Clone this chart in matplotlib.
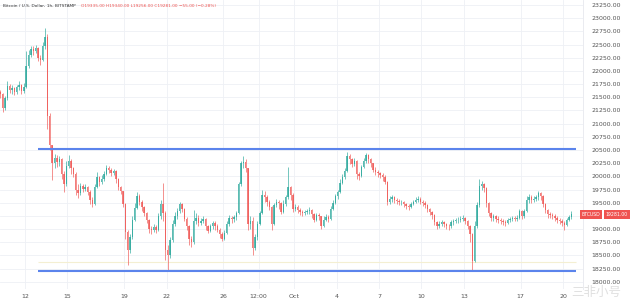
import matplotlib
matplotlib.use("Agg")
import matplotlib.pyplot as plt
import matplotlib.dates as mdates
import numpy as np
import pandas as pd

# ---------------- data (4h candles) ----------------
first_open = 21600
close = [21560, 21300, 21480, 21720, 21640, 21680, 21600, 21690, 21740, 21620,
         21700, 22100, 22300, 22420, 22380, 22440, 22250, 22200, 22480, 22650,
         21150, 20600, 20250, 20350, 20280, 20320, 20050, 19850, 20200, 20300,
         20150, 20050, 19750, 19680, 19820, 19760, 19800, 19700, 19560, 19480,
         19800, 19980, 19900, 19950, 20050, 20150, 20120, 20060, 20100, 19950,
         19800, 19720, 19480, 18950, 18600, 18850, 19180, 19400, 19620, 19520,
         19420, 19300, 19180, 19000, 18980, 19040, 18990, 19250, 19480, 19300,
         18600, 18500, 18800, 19100, 19250, 19350, 19480, 19380, 19200, 19050,
         18820, 18760, 19150, 19220, 19120, 19160, 19200, 19050, 18960, 19050,
         19120, 19060, 18990, 18900, 18820, 18930, 19100, 19220, 19190, 19230,
         19300, 19850, 20250, 20280, 20150, 19100, 19150, 18650, 18850, 19100,
         19300, 19650, 19600, 19520, 19420, 19100, 19450, 19520, 19500, 19330,
         19480, 19600, 19800, 19650, 19380, 19420, 19360, 19330, 19300, 19320,
         19340, 19360, 19280, 19180, 19260, 19240, 19060, 19180, 19230, 19200,
         19380, 19500, 19620, 19700, 19880, 19980, 20100, 20380, 20320, 20230,
         20300, 20050, 20000, 20180, 20300, 20400, 20320, 20250, 20130, 20080,
         20060, 20020, 19980, 19900, 19520, 19580, 19600, 19560, 19530, 19510,
         19520, 19470, 19440, 19410, 19480, 19520, 19560, 19580, 19520, 19500,
         19460, 19380, 19320, 19270, 19130, 19060, 19100, 19140, 19090, 19060,
         19050, 19130, 19150, 19170, 19180, 19200, 19210, 19160, 19060, 18900,
         18400, 19050, 19450, 19820, 19850, 19780, 19500, 19300, 19220, 19240,
         19200, 19180, 19160, 19140, 19120, 19170, 19190, 19210, 19200, 19220,
         19340, 19240, 19350, 19560, 19600, 19550, 19580, 19600, 19680, 19620,
         19480, 19360, 19280, 19270, 19250, 19210, 19180, 19150, 19120, 19080,
         19170, 19230, 19281]
high = [21640, 21580, 21520, 21800, 21760, 21740, 21700, 21730, 21800, 21760,
        21780, 22380, 22390, 22480, 22470, 22500, 22460, 22300, 22540, 22810,
        22700, 21200, 20600, 20420, 20400, 20380, 20340, 20100, 20300, 20400,
        20320, 20180, 20080, 19850, 19880, 19860, 19850, 19820, 19740, 19600,
        19850, 20080, 20000, 20020, 20100, 20220, 20200, 20150, 20140, 20120,
        19960, 19820, 19730, 19500, 18980, 18900, 19250, 19500, 19700, 19660,
        19560, 19440, 19330, 19200, 19060, 19090, 19080, 19300, 19560, 19880,
        19350, 18700, 18850, 19180, 19320, 19400, 19520, 19500, 19400, 19230,
        19080, 18860, 19360, 19300, 19260, 19220, 19250, 19220, 19080, 19100,
        19160, 19150, 19090, 19020, 18940, 18980, 19150, 19260, 19250, 19270,
        19340, 19900, 20300, 20380, 20320, 20160, 19250, 19230, 18900, 19150,
        19350, 19740, 19720, 19640, 19560, 19440, 19500, 19580, 19560, 19520,
        19550, 19650, 20180, 19820, 19680, 19470, 19450, 19400, 19370, 19360,
        19390, 19410, 19380, 19300, 19310, 19300, 19250, 19240, 19280, 19260,
        19430, 19560, 19660, 19750, 19950, 20050, 20160, 20470, 20420, 20350,
        20340, 20310, 20080, 20220, 20350, 20450, 20420, 20340, 20260, 20170,
        20120, 20090, 20060, 20020, 19920, 19620, 19640, 19630, 19590, 19570,
        19560, 19540, 19500, 19470, 19520, 19560, 19600, 19620, 19600, 19560,
        19530, 19480, 19400, 19340, 19290, 19160, 19160, 19180, 19160, 19120,
        19100, 19170, 19200, 19220, 19230, 19240, 19260, 19230, 19180, 19080,
        18920, 19150, 19520, 19950, 19920, 19880, 19800, 19520, 19330, 19290,
        19270, 19240, 19210, 19200, 19180, 19210, 19230, 19250, 19250, 19260,
        19380, 19360, 19390, 19620, 19660, 19640, 19630, 19650, 19720, 19700,
        19640, 19500, 19380, 19330, 19310, 19280, 19240, 19210, 19190, 19160,
        19220, 19270, 19340]
low = [21480, 21220, 21260, 21450, 21580, 21560, 21540, 21570, 21640, 21560,
       21580, 21680, 22050, 22260, 22300, 22340, 22180, 22120, 22190, 22420,
       20900, 20500, 19930, 20150, 20180, 20200, 19950, 19700, 19820, 20150,
       20050, 19980, 19650, 19590, 19640, 19700, 19720, 19650, 19480, 19420,
       19460, 19780, 19820, 19860, 19920, 20020, 20060, 20000, 20020, 19880,
       19740, 19660, 19420, 18820, 18320, 18550, 18820, 19150, 19380, 19450,
       19340, 19240, 19120, 18920, 18900, 18950, 18930, 18960, 19200, 19150,
       18420, 18220, 18450, 18760, 19060, 19200, 19300, 19320, 19150, 18980,
       18700, 18660, 18720, 19100, 19060, 19080, 19110, 18980, 18920, 18940,
       19000, 18990, 18940, 18840, 18780, 18800, 18900, 19060, 19120, 19140,
       19180, 19280, 19820, 20150, 20080, 18980, 19000, 18500, 18600, 18800,
       19080, 19280, 19520, 19440, 19360, 18980, 19080, 19420, 19380, 19280,
       19300, 19440, 19580, 19560, 19330, 19340, 19300, 19270, 19240, 19260,
       19280, 19290, 19220, 19130, 19150, 19170, 19000, 19040, 19150, 19140,
       19180, 19360, 19480, 19580, 19680, 19850, 19950, 20080, 20240, 20170,
       20200, 19950, 19930, 19980, 20150, 20260, 20260, 20180, 20080, 20020,
       19990, 19960, 19920, 19850, 19460, 19470, 19520, 19500, 19480, 19460,
       19460, 19420, 19390, 19370, 19400, 19450, 19490, 19510, 19470, 19440,
       19400, 19330, 19260, 19200, 19080, 19010, 19030, 19060, 19040, 19000,
       18990, 19030, 19080, 19110, 19120, 19140, 19150, 19100, 19000, 18750,
       18220, 18380, 19020, 19420, 19740, 19700, 19420, 19250, 19150, 19160,
       19140, 19120, 19100, 19080, 19060, 19100, 19130, 19150, 19150, 19160,
       19200, 19200, 19220, 19330, 19500, 19490, 19510, 19530, 19560, 19560,
       19420, 19300, 19220, 19210, 19190, 19150, 19120, 19090, 19060, 18990,
       19060, 19150, 19200]

start_time = "2022-09-10 04:00"
support_level = 18210
resistance_level = 20515
line_start = "2022-09-12 22:00"
line_end = "2022-10-20 21:30"

tick_dates = ["2022-09-12 00:00", "2022-09-15 00:00", "2022-09-19 00:00", "2022-09-22 00:00",
              "2022-09-26 00:00", "2022-09-28 12:00", "2022-10-01 00:00", "2022-10-04 00:00",
              "2022-10-07 00:00", "2022-10-10 00:00", "2022-10-13 00:00", "2022-10-17 00:00",
              "2022-10-20 00:00"]
tick_labels = ["12", "15", "19", "22", "26", "12:00", "Oct", "4", "7", "10", "13", "17", "20"]
price_ticks = list(range(18000, 23251, 250))
hidden_price_label = 19250  # covered by the last-price badge

title_main = "Bitcoin / U.S. Dollar, 1h, BITSTAMP"
title_ohlc = "O19335.00 H19340.00 L19256.00 C19281.00 \u221255.00 (\u22120.28%)"
symbol = "BTCUSD"
last_value = 19281.00
last_price = "19281.00"

# ---------------- plotting ----------------
plt.rcParams['font.family'] = ['DejaVu Sans', 'Noto Sans CJK SC']

UP = "#26a69a"
DOWN = "#ef5350"

W, H = 631, 307
fig = plt.figure(figsize=(W / 100, H / 100), dpi=100)
fig.patch.set_facecolor("white")
ax = fig.add_axes([0, 18 / H, 583 / W, 289 / H])

times = pd.date_range(start_time, periods=len(close), freq="4h")
t = mdates.date2num(times.to_pydatetime()) + 2 / 24
o = np.array([first_open] + close[:-1], dtype=float)
c = np.array(close, dtype=float)
hi = np.array(high, dtype=float)
lo = np.array(low, dtype=float)
up = c >= o
cols = np.where(up, UP, DOWN)

ax.vlines(t, lo, hi, colors=cols, linewidth=0.6, alpha=0.75, zorder=3)
bottoms = np.minimum(o, c)
heights = np.maximum(np.abs(c - o), 8)
ax.bar(t, heights, width=0.1, bottom=bottoms, color=cols, alpha=0.75,
       linewidth=0, zorder=4)

x0 = mdates.date2num(pd.Timestamp(line_start).to_pydatetime())
x1 = mdates.date2num(pd.Timestamp(line_end).to_pydatetime())
ax.hlines([resistance_level, support_level], x0, x1, colors="#5b84ec",
          linewidth=1.5, zorder=5)
ax.hlines([18380], x0, x1, colors="#f4efd2", linewidth=0.8, zorder=2)

ref = mdates.date2num(pd.Timestamp("2022-09-12").to_pydatetime())
ax.set_xlim(ref - 25 / 14.16, ref + (583 - 25) / 14.16)
ax.set_ylim(23250 - 284 / 0.05273, 23250 + 5 / 0.05273)

tick_pos = [mdates.date2num(pd.Timestamp(d).to_pydatetime()) for d in tick_dates]
ax.set_xticks(tick_pos)
ax.set_xticklabels(tick_labels)
ax.set_yticks(price_ticks)
ax.set_yticklabels(["" if p == hidden_price_label else f"{p:.2f}" for p in price_ticks])
ax.yaxis.tick_right()
ax.tick_params(axis="both", length=0, labelsize=4.5, colors="#555555")
ax.tick_params(axis="y", pad=6)
ax.tick_params(axis="x", pad=3.5)
ax.grid(True, color="#eef0f5", linewidth=0.6, zorder=0)
ax.set_axisbelow(True)
for s in ["top", "left", "bottom"]:
    ax.spines[s].set_visible(False)
ax.spines["right"].set_color("#e6e8ee")
ax.spines["right"].set_linewidth(0.6)

fig.text(3 / W, 1 - 6 / H, title_main, fontsize=3.1, color="#333333", va="center", ha="left")
fig.text(81 / W, 1 - 6 / H, title_ohlc, fontsize=3.1, color=DOWN, va="center", ha="left")

# last price badges
ypos = ax.transData.transform((0, last_value))[1] / H
fig.text(591 / W, ypos, symbol, fontsize=3.3, color="white", va="center", ha="center",
         bbox=dict(boxstyle="square,pad=0.4", fc=DOWN, ec="none"))
fig.text(617 / W, ypos, last_price, fontsize=3.3, color="white", va="center", ha="center",
         bbox=dict(boxstyle="square,pad=0.4", fc=DOWN, ec="none"))

# watermark
fig.text(596 / W, 1 - 292 / H, "三非小号", fontsize=9, color="#d8d8d8", alpha=0.8,
         va="center", ha="center", family=["Noto Sans CJK SC", "DejaVu Sans"])

fig.savefig("out.png", dpi=100, facecolor="white")
